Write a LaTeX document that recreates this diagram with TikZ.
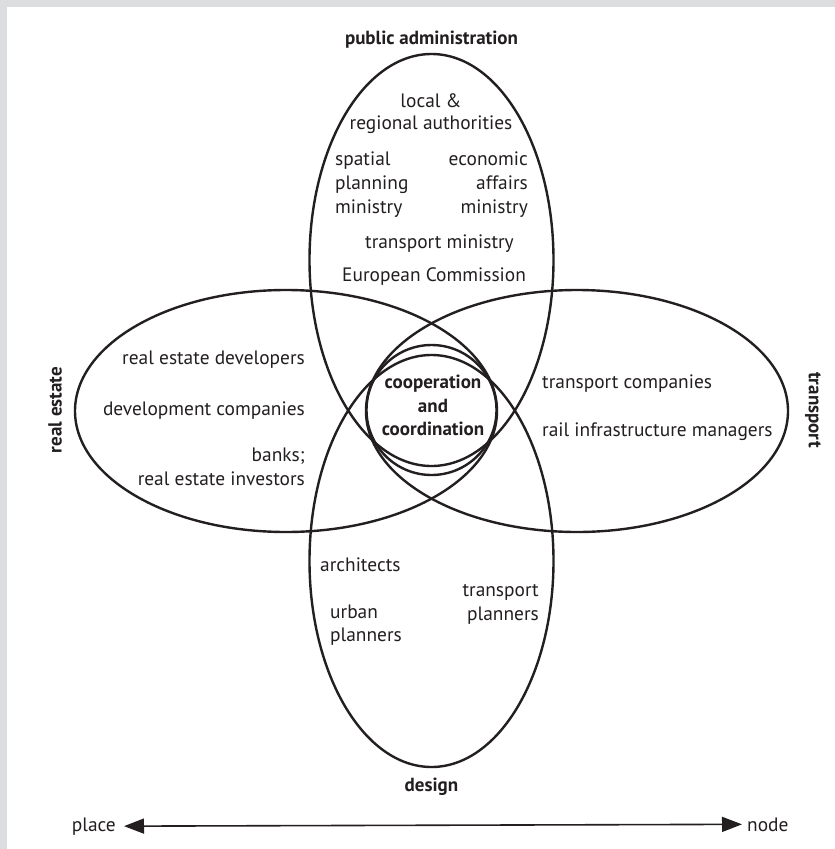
\documentclass[tikz,border=0pt]{standalone}
\usepackage{fontspec}
\setmainfont{PT Sans}
\usetikzlibrary{shapes.geometric,arrows.meta}
\definecolor{ink}{HTML}{231F20}
\definecolor{framegrey}{HTML}{DCDDDF}
\begin{document}
\begin{tikzpicture}[x=1pt,y=-1pt,
  set/.style={draw=ink, line width=2.4pt, ellipse, inner sep=0pt},
  lbl/.style={font=\fontsize{19.4}{23}\selectfont, text=ink, inner sep=0pt},
  head/.style={lbl, font=\fontsize{19}{23}\selectfont\bfseries},
  axis/.style={draw=ink, line width=1.6pt, {Triangle[length=20pt,width=15pt]}-{Triangle[length=20pt,width=15pt]}}]
\useasboundingbox (0,0) rectangle (835,849);
\fill[framegrey] (0,0) rectangle (835,849);
\fill[white] (7,7) rectangle (835,849);

% the four overlapping fields and the shared core
\node[set, minimum width=244pt, minimum height=412pt] (admin) at (431.5,260) {};
\node[set, minimum width=244pt, minimum height=412pt] (design) at (431.5,561) {};
\node[set, minimum width=422pt, minimum height=242pt] (estate) at (286,411) {};
\node[set, minimum width=422pt, minimum height=242pt] (trans) at (577,411) {};
\node[set, circle, minimum size=130pt] (core) at (431.5,410) {};

% field titles
\node[head, anchor=base] (tadmin) at (431.5,44) {public administration};
\node[head, anchor=base] (tdesign) at (431.5,791) {design};
\node[head, rotate=90] (testate) at (55,410) {real estate};
\node[head, rotate=-90] (ttrans) at (813,410) {transport};

% core
\node[head, anchor=base] (c1) at (433,388) {cooperation};
\node[head, anchor=base] (c2) at (433,412) {and};
\node[head, anchor=base] (c3) at (433,435) {coordination};

% public administration actors
\node[lbl, anchor=base] (a1) at (431,107) {local \&};
\node[lbl, anchor=base] (a2) at (431,129) {regional authorities};
\node[lbl, anchor=base west] (a3) at (335,165) {spatial};
\node[lbl, anchor=base west] (a4) at (335,189) {planning};
\node[lbl, anchor=base west] (a5) at (335,213) {ministry};
\node[lbl, anchor=base east] (a6) at (528,165) {economic};
\node[lbl, anchor=base east] (a7) at (528,189) {affairs};
\node[lbl, anchor=base east] (a8) at (528,213) {ministry};
\node[lbl, anchor=base west] (a9) at (365,248) {transport ministry};
\node[lbl, anchor=base west] (a10) at (342,281) {European Commission};

% real estate actors
\node[lbl, anchor=base east] (r1) at (305,364) {real estate developers};
\node[lbl, anchor=base east] (r2) at (305,415) {development companies};
\node[lbl, anchor=base east] (r3) at (305,461) {banks;};
\node[lbl, anchor=base east] (r4) at (305,485) {real estate investors};

% transport actors
\node[lbl, anchor=base west] (t1) at (542,388) {transport companies};
\node[lbl, anchor=base west] (t2) at (542,436) {rail infrastructure managers};

% design actors
\node[lbl, anchor=base west] (d1) at (320,571) {architects};
\node[lbl, anchor=base west] (d2) at (330,618) {urban};
\node[lbl, anchor=base west] (d3) at (330,641) {planners};
\node[lbl, anchor=base east] (d4) at (539,596) {transport};
\node[lbl, anchor=base east] (d5) at (539,620) {planners};

% place--node axis
\node[lbl, anchor=base east] (place) at (116,831) {place};
\node[lbl, anchor=base west] (nodelbl) at (747,831) {node};
\draw[axis] ([xshift=8pt]place.east) -- ([xshift=-5pt]nodelbl.west);
\end{tikzpicture}
\end{document}
